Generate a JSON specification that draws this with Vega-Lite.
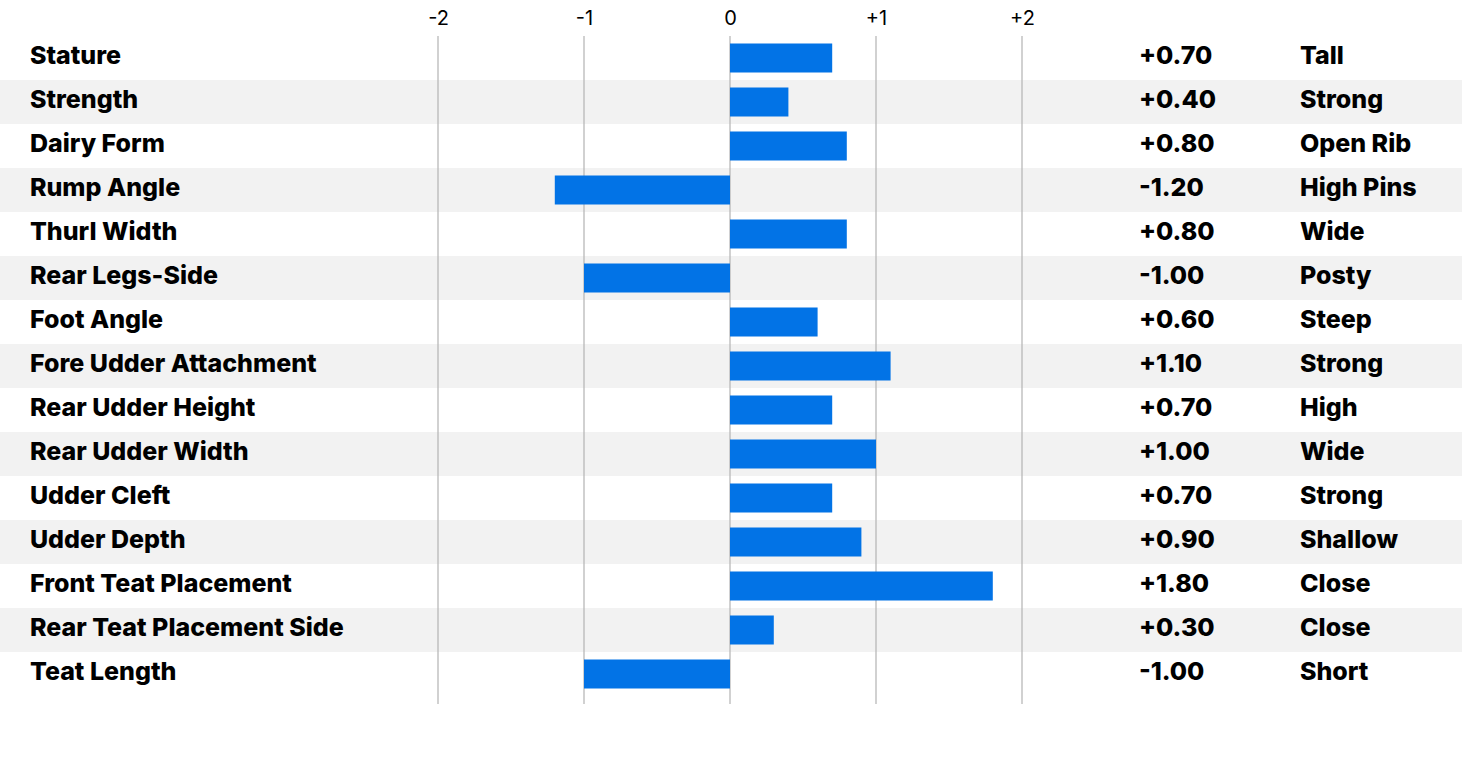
{
  "$schema": "https://vega.github.io/schema/vega-lite/v6.json",
  "width": 1462,
  "height": 668,
  "autosize": "none",
  "padding": {"top": 36, "left": 0, "right": 0, "bottom": 60},
  "background": "white",
  "config": {
    "view": {"stroke": null},
    "font": "Inter",
    "locale": {"number": {"decimal": ".", "thousands": ",", "grouping": [3], "currency": ["$", ""], "minus": "-"}}
  },
  "datasets": {
    "traits": [
      {"trait": "Stature", "value": 0.7, "desc": "Tall"},
      {"trait": "Strength", "value": 0.4, "desc": "Strong"},
      {"trait": "Dairy Form", "value": 0.8, "desc": "Open Rib"},
      {"trait": "Rump Angle", "value": -1.2, "desc": "High Pins"},
      {"trait": "Thurl Width", "value": 0.8, "desc": "Wide"},
      {"trait": "Rear Legs-Side", "value": -1.0, "desc": "Posty"},
      {"trait": "Foot Angle", "value": 0.6, "desc": "Steep"},
      {"trait": "Fore Udder Attachment", "value": 1.1, "desc": "Strong"},
      {"trait": "Rear Udder Height", "value": 0.7, "desc": "High"},
      {"trait": "Rear Udder Width", "value": 1.0, "desc": "Wide"},
      {"trait": "Udder Cleft", "value": 0.7, "desc": "Strong"},
      {"trait": "Udder Depth", "value": 0.9, "desc": "Shallow"},
      {"trait": "Front Teat Placement", "value": 1.8, "desc": "Close"},
      {"trait": "Rear Teat Placement Side", "value": 0.3, "desc": "Close"},
      {"trait": "Teat Length", "value": -1.0, "desc": "Short"}
    ],
    "ticks": [{"t": -2}, {"t": -1}, {"t": 0}, {"t": 1}, {"t": 2}]
  },
  "data": {"name": "traits"},
  "encoding": {
    "y": {
      "field": "trait",
      "type": "nominal",
      "sort": null,
      "scale": {
        "domain": ["Stature", "Strength", "Dairy Form", "Rump Angle", "Thurl Width", "Rear Legs-Side", "Foot Angle", "Fore Udder Attachment", "Rear Udder Height", "Rear Udder Width", "Udder Cleft", "Udder Depth", "Front Teat Placement", "Rear Teat Placement Side", "Teat Length"],
        "range": [0, 660],
        "paddingInner": 0,
        "paddingOuter": 0
      },
      "axis": null
    }
  },
  "layer": [
    {
      "transform": [
        {"window": [{"op": "row_number", "as": "rn"}]},
        {"filter": "datum.rn % 2 == 0"}
      ],
      "mark": {"type": "rect", "color": "#f2f2f2"}
    },
    {
      "data": {"name": "ticks"},
      "mark": {"type": "rule", "color": "#b3b3b3", "strokeWidth": 1.2},
      "encoding": {
        "x": {"field": "t", "type": "quantitative", "scale": {"domain": [-5, 5.0137], "nice": false, "zero": false}},
        "y": null
      }
    },
    {
      "mark": {"type": "bar", "color": "#0273e6", "size": 29},
      "encoding": {
        "x": {
          "field": "value",
          "type": "quantitative",
          "scale": {"domain": [-5, 5.0137], "nice": false},
          "axis": {
            "orient": "top",
            "values": [-2, -1, 0, 1, 2],
            "domain": false,
            "ticks": false,
            "grid": false,
            "title": null,
            "labelPadding": 8,
            "labelFontSize": 20,
            "labelColor": "#000000",
            "labelFont": "Inter",
            "labelExpr": "datum.value > 0 ? '+' + datum.value : '' + datum.value"
          }
        },
        "x2": {"datum": 0}
      }
    },
    {
      "mark": {"type": "text", "align": "left", "baseline": "alphabetic", "dy": 6, "fontSize": 25, "fontWeight": 800, "color": "#000000"},
      "encoding": {
        "x": {"datum": -4.795},
        "text": {"field": "trait"}
      }
    },
    {
      "mark": {"type": "text", "align": "left", "baseline": "alphabetic", "dy": 6, "fontSize": 25, "fontWeight": 800, "color": "#000000"},
      "encoding": {
        "x": {"datum": 2.801},
        "text": {"field": "value", "type": "quantitative", "format": "+.2f"}
      }
    },
    {
      "mark": {"type": "text", "align": "left", "baseline": "alphabetic", "dy": 6, "fontSize": 25, "fontWeight": 800, "color": "#000000"},
      "encoding": {
        "x": {"datum": 3.904},
        "text": {"field": "desc"}
      }
    }
  ]
}
